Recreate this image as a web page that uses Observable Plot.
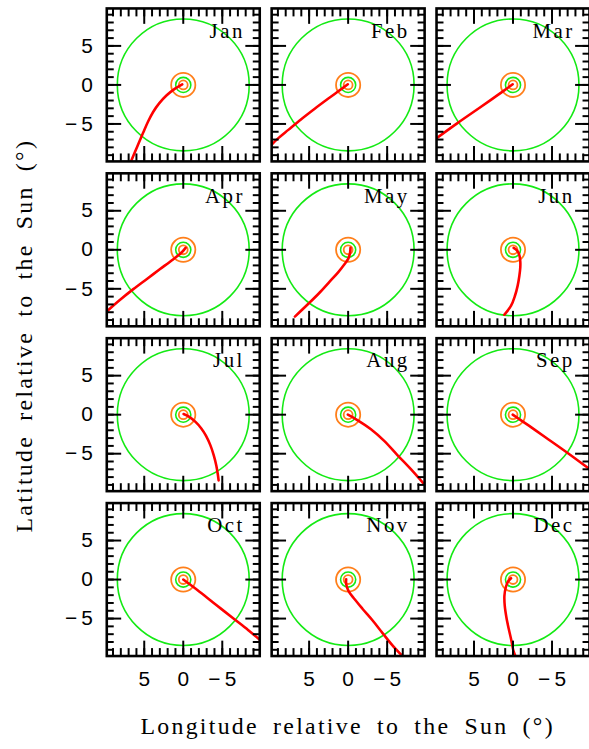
<!DOCTYPE html>
<html><head><meta charset="utf-8">
<script src="https://cdn.jsdelivr.net/npm/d3@7"></script>
<script src="https://cdn.jsdelivr.net/npm/@observablehq/plot@0.6"></script>
<style>
html,body{margin:0;padding:0;background:#fff;overflow:hidden;}
</style></head><body><div id="chart"></div>
<script>
// Panel names
const months = ["Jan","Feb","Mar","Apr","May","Jun","Jul","Aug","Sep","Oct","Nov","Dec"];

// Red tracks: longitude / latitude relative to the Sun (degrees)
const janLon = [0.13, 1.10, 2.16, 3.09, 3.86, 4.49, 5.13, 5.89, 6.69];
const janLat = [0.08, -0.51, -1.36, -2.37, -3.47, -4.66, -6.10, -7.88, -9.79];
const febLon = [0.04, 1.31, 2.58, 4.28, 5.97, 7.67, 8.94, 9.79];
const febLat = [0.08, -0.85, -1.78, -3.05, -4.36, -5.76, -6.82, -7.63];
const marLon = [0.04, 2.16, 4.28, 7.03, 9.79];
const marLat = [0.08, -1.44, -2.92, -4.83, -6.82];
const aprLon = [-0.30, 0.25, 1.31, 3.01, 4.70, 6.40, 8.09, 9.70];
const aprLat = [0.25, -0.38, -1.23, -2.50, -3.77, -5.04, -6.40, -7.80];
const mayLon = [-0.30, -0.25, -0.04, 0.47, 1.31, 2.37, 3.64, 5.13, 6.82];
const mayLat = [0.25, -0.38, -1.10, -1.86, -2.92, -4.07, -5.47, -6.95, -8.56];
const junLon = [-0.08, -0.51, -0.81, -0.93, -0.93, -0.81, -0.59, -0.25, 0.25, 1.10];
const junLat = [0.25, -0.08, -0.68, -1.44, -2.29, -3.35, -4.62, -5.89, -7.16, -8.31];
const julLon = [-0.04, -0.72, -1.57, -2.29, -2.92, -3.47, -3.90, -4.24, -4.45, -4.53];
const julLat = [0.08, -0.25, -0.93, -1.74, -2.71, -3.90, -5.17, -6.53, -7.80, -8.43];
const augLon = [0.04, -1.02, -2.92, -4.62, -6.31, -8.01, -9.70];
const augLat = [0.00, -0.59, -1.86, -3.35, -5.17, -6.95, -8.86];
const sepLon = [0.04, -2.08, -4.19, -6.78, -9.80];
const sepLat = [0.00, -1.44, -2.92, -4.75, -6.97];
const octLon = [0.00, -2.08, -4.19, -6.31, -8.30, -9.80];
const octLat = [0.00, -1.55, -3.22, -4.90, -6.45, -7.70];
const novLon = [0.25, 0.25, -0.04, -0.81, -1.86, -3.14, -4.41, -5.68, -6.95];
const novLat = [0.04, -0.59, -1.44, -2.50, -3.77, -5.25, -6.86, -8.43, -9.79];
const decLon = [0.25, 0.64, 0.93, 1.10, 1.06, 0.85, 0.55, 0.21, -0.04, -0.30];
const decLat = [0.17, -0.25, -1.02, -2.08, -3.35, -4.83, -6.31, -7.80, -9.07, -9.79];

// Reference circles around the Sun (radius in degrees)
const greenRadii = [8.45, 0.97];
const orangeRadii = [1.55, 0.57];

// Tick values
const majorTicks = [-5, 0, 5];
const minorTicks = [-9, -8, -7, -6, -5, -4, -3, -2, -1, 0, 1, 2, 3, 4, 5, 6, 7, 8, 9];

const lonData = [janLon, febLon, marLon, aprLon, mayLon, junLon, julLon, augLon, sepLon, octLon, novLon, decLon];
const latData = [janLat, febLat, marLat, aprLat, mayLat, junLat, julLat, augLat, sepLat, octLat, novLat, decLat];

const panels = months.map((m, i) => ({month: m, col: i % 3, row: Math.floor(i / 3)}));
const curves = panels.flatMap((p, i) => lonData[i].map((lon, j) => ({...p, lon, lat: latData[i][j]})));

const GREEN = "#14ea14", ORANGE = "#ff7f1a", RED = "#ff0000";
const SERIF = "'Liberation Serif', 'DejaVu Serif', serif";
const SANS = "'Liberation Sans', Arial, sans-serif";
const fmt = d => d < 0 ? "\u2212\u2009" + (-d) : String(d);

function sideTicks(values, len) {
  const common = {tickSize: -len, tickFormat: () => "", facetAnchor: null, strokeWidth: 2, stroke: "black", label: null};
  return [
    Plot.axisX(values, {...common, anchor: "bottom"}),
    Plot.axisX(values, {...common, anchor: "top"}),
    Plot.axisY(values, {...common, anchor: "left"}),
    Plot.axisY(values, {...common, anchor: "right"})
  ];
}

const pad = 12 / 166;
const plot = Plot.plot({
  width: 593, height: 749,
  marginLeft: 107, marginRight: 0, marginTop: 8, marginBottom: 89,
  style: {fontFamily: SANS, fontSize: "21px", background: "white", color: "black"},
  x: {domain: [9.8, -9.8], axis: null},
  y: {domain: [-9.8, 9.8], axis: null},
  r: {type: "linear", domain: [0, 9.8], range: [0, 77]},
  fx: {axis: null, paddingInner: pad, paddingOuter: 0, round: false},
  fy: {axis: null, paddingInner: pad, paddingOuter: 0, round: false},
  marks: [
    Plot.dot(greenRadii, {x: 0, y: 0, r: d => d, stroke: GREEN, strokeWidth: 1.6, fill: "none"}),
    Plot.dot(orangeRadii, {x: 0, y: 0, r: d => d, stroke: ORANGE, strokeWidth: 1.8, fill: "none"}),
    Plot.line(curves, {x: "lon", y: "lat", z: "month", fx: "col", fy: "row", stroke: RED, strokeWidth: 2.6, curve: "catmull-rom", clip: true}),
    Plot.text(panels, {fx: "col", fy: "row", text: "month", frameAnchor: "top-right", textAnchor: "end", lineAnchor: "bottom", dx: -15, dy: 29.5, fontFamily: SERIF, fontSize: 21, fill: "black"}),
    ...sideTicks(minorTicks, 7.5),
    ...sideTicks(majorTicks, 15),
    Plot.axisX(majorTicks, {anchor: "bottom", tickSize: 0, tickPadding: 15, tickFormat: fmt, fontSize: 21, label: null}),
    Plot.axisY(majorTicks, {anchor: "left", facetAnchor: "left", tickSize: 0, tickPadding: 14, tickFormat: fmt, fontSize: 21, label: null}),
    Plot.frame({stroke: "black", strokeWidth: 2.6})
  ]
});

document.getElementById("chart").appendChild(plot);
const svg = d3.select(plot);
svg.selectAll('g[aria-label="text"] text').style("letter-spacing", "2.5px");
svg.append("text")
  .attr("x", 350).attr("y", 739).attr("text-anchor", "middle")
  .style("font-family", SERIF).style("font-size", "24px")
  .style("letter-spacing", "2.3px").style("word-spacing", "6px")
  .attr("fill", "black")
  .text("Longitude relative to the Sun (°)");
svg.append("text")
  .attr("transform", "translate(32,338) rotate(-90)").attr("text-anchor", "middle")
  .style("font-family", SERIF).style("font-size", "24px")
  .style("letter-spacing", "2.3px").style("word-spacing", "6px")
  .attr("fill", "black")
  .text("Latitude relative to the Sun (°)");
</script></body></html>
